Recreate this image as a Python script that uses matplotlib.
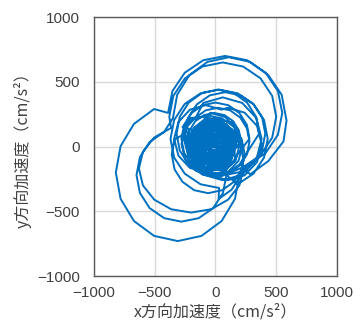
import matplotlib
matplotlib.use("Agg")
import matplotlib.pyplot as plt

# 加速度オービット（x方向・y方向, cm/s^2）
# 揺れ始め：中心付近の小さなループ
x_early = [40, 29, -1, -39, -69, -80, -69, -39, -1, 29,
           90, 71, 21, -41, -91, -110, -88, -41, 21, 71,
           110, 83, 13, -73, -143, -170, -143, -73, 13, 83,
           170, 138, 53, -53, -138, -170, -138, -53, 53, 138,
           80, 57, -3, -77, -137, -160, -137, -77, -3, 57,
           170, 134, 39, -79, -174, -210, -174, -79, 39, 134,
           160, 131, 56, -36, -111, -140, -111, -36, 56, 131]
y_early = [30, 65, 87, 87, 65, 30, -5, -27, -27, -5,
           20, 79, 115, 115, 79, 20, -39, -75, -75, -39,
           40, 122, 173, 173, 122, 40, -42, -93, -93, -42,
           10, 110, 172, 172, 110, 10, -90, -152, -152, -90,
           50, 121, 164, 164, 121, 50, -21, -64, -64, -21,
           20, 132, 201, 201, 132, 20, -92, -161, -161, -92,
           40, 128, 183, 183, 128, 40, -48, -103, -103, -48]

# 主要動：上側と左下側の大きなループ
x_main = [210, 193, 146, 74, -10, -94, -166, -213, -230, -213, -166, -94, -10, 74, 146, 193,
          280, 259, 198, 107, 0, -107, -198, -259, -280, -259, -198, -107, 0, 107, 198, 259,
          360, 334, 260, 150, 20, -110, -220, -294, -320, -294, -220, -110, 20,
          260, 412, 514, 550, 514, 412, 260, 80, -100, -252, -354, -390,
          -505, -671, -781, -820, -781, -671, -505, -310, -115, 51, 161, 200,
          229, 371, 467, 500, 467, 371, 228, 60, -108, -251, -347, -380,
          -365, -504, -597, -630, -597, -504, -365, -200, -35, 104, 197, 230,
          286, 435, 560, 585, 545, 435, 286, 110, -66, -215, -315, -350,
          -422, -542, -622, -650, -622, -542, -422, -280, -138, -18, 62, 90,
          183, 313, 400, 430, 400, 313, 183, 30, -123, -253, -340, -370, -340, -253, -123, 30,
          26, 133, 205, 230, 205, 133, 26, -100, -226,
          -225, -250, -225, -153, -46, 80, 206, 313, 385, 410, 385, 313, 206, 80, -46, -153, -225, -250,
          -337, -360, -337, -272, -175, -60, 55, 152, 217, 240, 217, 152, 55, -60, -175, -272,
          -220, -240, -220, -164, -80, 20, 120, 204, 260, 280, 260, 204, 120, 20, -80, -164]
y_main = [40, 124, 196, 243, 260, 243, 196, 124, 40, -44, -116, -163, -180, -163, -116, -44,
          60, 167, 258, 319, 340, 319, 258, 167, 60, -47, -138, -199, -220, -199, -138, -47,
          100, 230, 340, 414, 440, 414, 340, 230, 100, -30, -140, -214, -240,
          -147, -51, 91, 260, 429, 571, 667, 700, 667, 571, 429, 260,
          290, 175, 3, -200, -403, -575, -690, -730, -690, -575, -403, -200,
          -158, -67, 69, 230, 391, 527, 618, 650, 618, 527, 391, 230,
          144, 70, -40, -170, -300, -410, -484, -510, -484, -410, -300, -170,
          -214, -112, 40, 200, 400, 552, 654, 690, 654, 552, 400, 220,
          113, 35, -82, -220, -358, -475, -553, -580, -553, -475, -358, -220,
          -291, -209, -85, 60, 205, 329, 411, 440, 411, 329, 205, 60, -85, -209, -291, -320,
          -405, -333, -226, -100, 26, 133, 205, 230, 205,
          222, 100, -22, -126, -196, -220, -196, -126, -22, 100, 222, 326, 396, 420, 396, 326, 222, 100,
          55, -60, -175, -272, -337, -360, -337, -272, -175, -60, 55, 152, 217, 240, 217, 152,
          139, 40, -59, -144, -200, -220, -200, -144, -59, 40, 139, 224, 280, 300, 280, 224]

# 減衰区間：中くらいのループ
x_decay = [-217, -260, -217, -100, 60, 220, 337, 380, 337, 220, 60, -100,
           -160, -248, -280, -248, -160, -40, 80, 168, 200, 168, 80, -40,
           -40, -142, -180, -142, -40, 100, 240, 342, 380, 342, 240, 100,
           50, -80, -210, -305, -340, -305, -210, -80, 50, 145, 180, 145,
           110, 0, -110, -190, -220, -190, -110, 0, 110, 190, 220, 190]
y_decay = [220, 60, -100, -217, -260, -217, -100, 60, 220, 337, 380, 337,
           228, 140, 20, -100, -188, -220, -188, -100, 20, 140, 228, 260,
           262, 160, 20, -120, -222, -260, -222, -120, 20, 160, 262, 300,
           285, 320, 285, 190, 60, -70, -165, -200, -165, -70, 60, 190,
           190, 220, 190, 110, 0, -110, -190, -220, -190, -110, 0, 110]

# 後続動（前半）：中心に集まるループ
x_after = [155, 120, 27, -87, -180, -215, -180, -87, 27, 120,
           147, 87, -10, -107, -167, -167, -107, -10, 87, 147,
           110, 81, 6, -86, -161, -190, -161, -86, 6, 81,
           128, 79, 0, -79, -128, -128, -79, 0, 79, 128,
           100, 77, 17, -57, -117, -140, -117, -57, 17, 77,
           70, 32, -30, -92, -130, -130, -92, -30, 32, 70,
           90, 73, 28, -28, -73, -90, -73, -28, 28, 73,
           146, 83, -20, -123, -186, -186, -123, -20, 83, 146,
           165, 135, 58, -38, -115, -145, -115, -38, 58, 135,
           93, 42, -40, -122, -173, -173, -122, -40, 42, 93,
           115, 91, 29, -49, -111, -135, -111, -49, 29, 91,
           70, 36, -20, -76, -110, -110, -76, -20, 36, 70,
           65, 51, 13, -33, -71, -85, -71, -33, 13, 51,
           122, 64, -30, -124, -182, -182, -124, -30, 64, 122]
y_after = [20, 129, 196, 196, 129, 20, -89, -156, -156, -89,
           91, 173, 205, 173, 91, -11, -93, -125, -93, -11,
           10, 98, 153, 153, 98, 10, -78, -133, -133, -78,
           62, 129, 155, 129, 62, -22, -89, -115, -89, -22,
           50, 121, 164, 164, 121, 50, -21, -64, -64, -21,
           32, 85, 105, 85, 32, -32, -85, -105, -85, -32,
           40, 93, 126, 126, 93, 40, -13, -46, -46, -13,
           84, 172, 205, 172, 84, -24, -112, -145, -112, -24,
           10, 101, 157, 157, 101, 10, -81, -137, -137, -81,
           83, 153, 180, 153, 83, -3, -73, -100, -73, -3,
           20, 94, 139, 139, 94, 20, -54, -99, -99, -54,
           59, 107, 125, 107, 59, 1, -47, -65, -47, 1,
           20, 64, 91, 91, 64, 20, -24, -51, -51, -24,
           79, 159, 190, 159, 79, -19, -99, -130, -99, -19]

# 後続動（後半）：小さくなっていくループ
x_late = [200, 164, 69, -49, -144, -180, -144, -49, 69, 164,
          150, 116, 26, -86, -176, -210, -176, -86, 26, 116,
          120, 89, 9, -89, -169, -200, -169, -89, 9, 89,
          120, 95, 30, -50, -115, -140, -115, -50, 30, 95,
          140, 113, 43, -43, -113, -140, -113, -43, 43, 113,
          140, 109, 29, -69, -149, -180, -149, -69, 29, 109,
          150, 118, 33, -73, -158, -190, -158, -73, 33, 118,
          110, 89, 34, -34, -89, -110, -89, -34, 34, 89,
          170, 132, 32, -92, -192, -230, -192, -92, 32, 132,
          70, 51, 1, -61, -111, -130, -111, -61, 1, 51,
          130, 101, 26, -66, -141, -170, -141, -66, 26, 101,
          80, 63, 18, -38, -83, -100, -83, -38, 18, 63,
          80, 57, -3, -77, -137, -160, -137, -77, -3, 57,
          60, 47, 12, -32, -67, -80, -67, -32, 12, 47,
          50, 40, 15, -15, -40, -50, -40, -15, 15, 40,
          25, 15, -10, -35, -45, -35, -10, 15,
          25, 18, 0, -18, -25, -18, 0, 18,
          0, -6, -20, -34, -40, -34, -20, -6,
          10, 4, -11, -29, -44, -50, -44, -29, -11, 4,
          -5, 10, -30, 0, -20, 5, -10, -25, 15, -15,
          -30, -10, -25, -12, -20, 0, -5,
          -50, -20, -40, -10, -45, -25, -35]
y_late = [0, 112, 181, 181, 112, 0, -112, -181, -181, -112,
          40, 146, 211, 211, 146, 40, -66, -131, -131, -66,
          40, 134, 192, 192, 134, 40, -54, -112, -112, -54,
          20, 96, 144, 144, 96, 20, -56, -104, -104, -56,
          60, 142, 193, 193, 142, 60, -22, -73, -73, -22,
          50, 144, 202, 202, 144, 50, -44, -102, -102, -44,
          -10, 90, 152, 152, 90, -10, -110, -172, -172, -110,
          30, 95, 135, 135, 95, 30, -35, -75, -75, -35,
          10, 128, 200, 200, 128, 10, -108, -180, -180, -108,
          30, 89, 125, 125, 89, 30, -29, -65, -65, -29,
          20, 108, 163, 163, 108, 20, -68, -123, -123, -68,
          40, 93, 126, 126, 93, 40, -13, -46, -46, -13,
          30, 101, 144, 144, 101, 30, -41, -84, -84, -41,
          30, 71, 97, 97, 71, 30, -11, -37, -37, -11,
          10, 39, 58, 58, 39, 10, -19, -38, -38, -19,
          30, 55, 65, 55, 30, 5, -5, 5,
          40, 58, 65, 58, 40, 22, 15, 22,
          20, 34, 40, 34, 20, 6, 0, 6,
          40, 58, 69, 69, 58, 40, 22, 11, 11, 22,
          25, 45, 50, 10, 35, 30, 20, 40, 20, 45,
          12, 30, 28, 12, 22, 18, 28,
          30, 50, 10, 40, 45, 15, 35]

# 揺れの終わり：中心での細かい揺れ
x_end = [-70, 30, -70, 30, -70, 30, -70, 30, -70, 30, -70, 30, -70, 30, -70, 30, -70, 30]
y_end = [-10, -5, 0, 5, 10, 15, 20, 25, 30, 35, 40, 45, 50, 55, 60, 65, 70, 75]

ticks = [-1000, -500, 0, 500, 1000]

acc_x = x_early + x_main + x_decay + x_after + x_late + x_end
acc_y = y_early + y_main + y_decay + y_after + y_late + y_end

jp = ["Noto Sans CJK JP", "DejaVu Sans"]

fig = plt.figure(figsize=(3.6, 3.29), dpi=100)
ax = fig.add_axes([0.261, 0.161, 0.675, 0.787])

ax.plot(acc_x, acc_y, color="#0070C0", linewidth=1.4)

ax.set_xlim(-1000, 1000)
ax.set_ylim(-1000, 1000)
ax.set_xticks(ticks)
ax.set_yticks(ticks)
ax.grid(True, color="#d9d9d9", linewidth=1.0)
ax.set_axisbelow(True)
for s in ax.spines.values():
    s.set_color("#595959")
    s.set_linewidth(1.0)
ax.tick_params(length=0, labelsize=11, labelcolor="#404040")
ax.tick_params(axis="x", pad=7)
ax.tick_params(axis="y", pad=10)
for lb in ax.get_xticklabels() + ax.get_yticklabels():
    lb.set_family(["Liberation Sans", "DejaVu Sans"])

ax.set_xlabel("x方向加速度（cm/s²）", family=jp, fontsize=11.5, color="#404040", labelpad=3)
ax.set_ylabel("y方向加速度（cm/s²）", family=jp, fontsize=11.5, color="#404040", labelpad=4)

fig.savefig("out.png", dpi=100)
